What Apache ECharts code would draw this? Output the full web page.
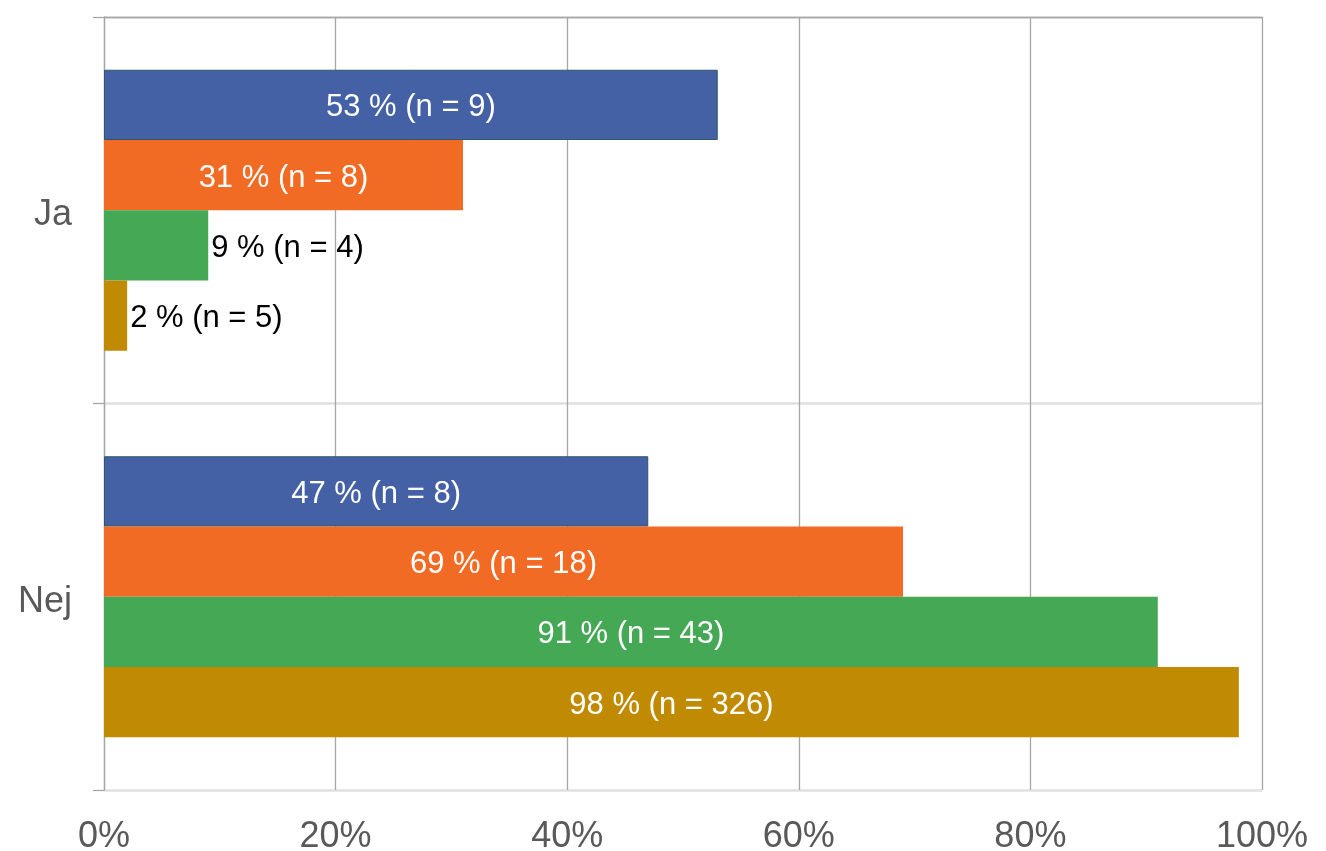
<!DOCTYPE html>
<html>
<head>
<meta charset="utf-8">
<script src="https://cdn.jsdelivr.net/npm/echarts@6/dist/echarts.min.js"></script>
<style>html,body{margin:0;padding:0;background:#fff}#c{width:1326px;height:851px}</style>
</head>
<body>
<div id="c"></div>
<script>
const categories = ['Ja', 'Nej'];
const seriesNames = ['Grupp 1', 'Grupp 2', 'Grupp 3', 'Grupp 4'];
const values1 = [53, 47];
const values2 = [31, 69];
const values3 = [9, 91];
const values4 = [2, 98];
const counts1 = [9, 8];
const counts2 = [8, 18];
const counts3 = [4, 43];
const counts4 = [5, 326];
const xTicks = ['0%', '20%', '40%', '60%', '80%', '100%'];
const colors = ['#4461A5', '#F26B24', '#44A855', '#C08A02'];

const allValues = [values1, values2, values3, values4];
const allCounts = [counts1, counts2, counts3, counts4];

const chart = echarts.init(document.getElementById('c'), null, {renderer: 'canvas'});
const font = 'Liberation Sans, Arial, sans-serif';

const series = allValues.map((vals, si) => ({
  name: seriesNames[si],
  type: 'bar',
  xAxisIndex: 0,
  barGap: '0%',
  barCategoryGap: '27.3%',
  itemStyle: si === 0 ? {color: colors[si], borderColor: '#2E5868', borderWidth: 1} : {color: colors[si]},
  data: vals.map((v, i) => {
    const small = v < 15;
    return {
      value: v,
      label: {
        show: true,
        position: small ? 'right' : 'inside',
        distance: 3,
        offset: [0, 3],
        color: small ? '#000000' : '#ffffff',
        fontSize: 31,
        fontFamily: font,
        formatter: () => v + ' % (n = ' + allCounts[si][i] + ')'
      }
    };
  })
}));

chart.setOption({
  animation: false,
  grid: {left: 104, right: 64, top: 17, bottom: 61, containLabel: false, outerBoundsMode: 'none'},
  xAxis: [{
    type: 'value',
    position: 'bottom',
    min: 0, max: 100, interval: 20,
    axisLine: {show: false},
    axisTick: {show: false},
    axisLabel: {
      fontSize: 36, fontFamily: font, color: '#595959', margin: 29,
      formatter: (v) => xTicks[Math.round(v / 20)]
    },
    splitLine: {show: true, lineStyle: {color: '#A6A6A6', width: 1.3}}
  }, {
    type: 'value',
    position: 'top',
    min: 0, max: 100, interval: 20,
    axisLine: {show: true, lineStyle: {color: '#A6A6A6', width: 1.3}},
    axisTick: {show: false},
    axisLabel: {show: false},
    splitLine: {show: false}
  }],
  yAxis: {
    type: 'category',
    inverse: true,
    data: categories,
    axisLine: {show: true, lineStyle: {color: '#A6A6A6', width: 1.3}},
    axisTick: {show: true, length: 11, lineStyle: {color: '#A6A6A6', width: 1.3}},
    axisLabel: {fontSize: 36, fontFamily: font, color: '#595959', margin: 32, verticalAlign: 'top', lineHeight: 10},
    splitLine: {show: true, lineStyle: {color: '#E0E0E0', width: 2.5}}
  },
  series: series
});
</script>
</body>
</html>
